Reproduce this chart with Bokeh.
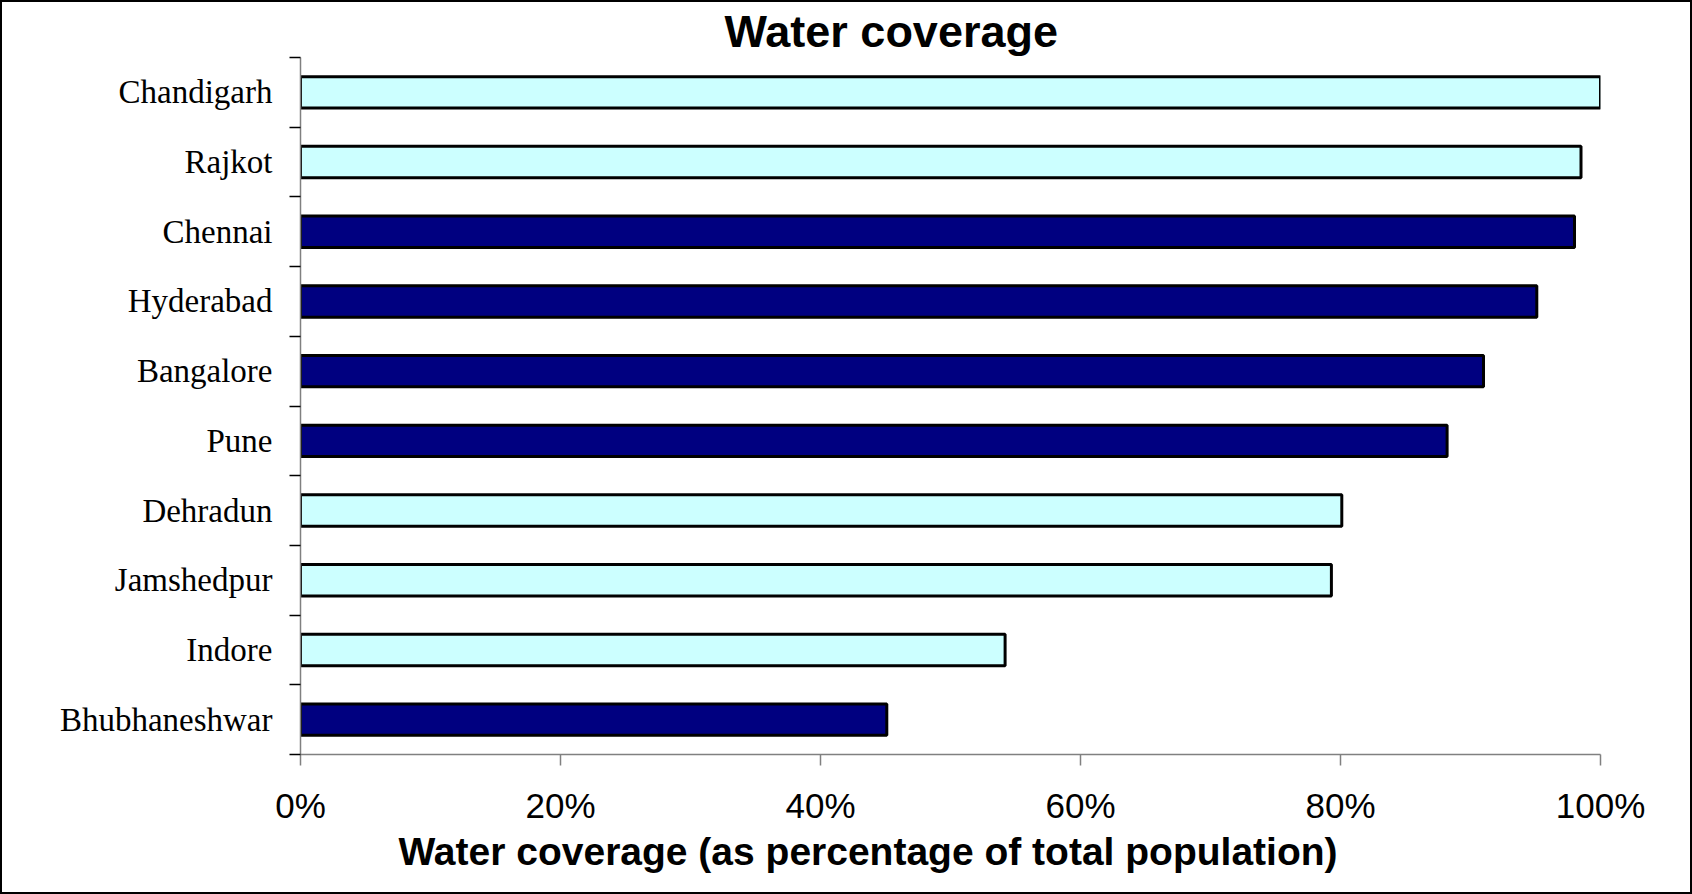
from bokeh.plotting import figure
from bokeh.models import (Range1d, FixedTicker, NumeralTickFormatter, Title,
                          ColumnDataSource, CategoricalColorMapper)
from bokeh.embed import file_html
from bokeh.resources import INLINE

# ---- data (top to bottom as shown) ----
cities = ["Chandigarh", "Rajkot", "Chennai", "Hyderabad", "Bangalore",
          "Pune", "Dehradun", "Jamshedpur", "Indore", "Bhubhaneshwar"]
coverage = [1.000, 0.985, 0.980, 0.951, 0.910, 0.882, 0.801, 0.793, 0.542, 0.451]
group = ["light", "light", "dark", "dark", "dark", "dark", "light", "light", "light", "dark"]
x_ticks = [0.0, 0.2, 0.4, 0.6, 0.8, 1.0]

n = len(cities)
ypos = [n - i - 0.5 for i in range(n)]
source = ColumnDataSource(dict(city=cities, cov=coverage, grp=group, y=ypos))

cmap = CategoricalColorMapper(factors=["light", "dark"], palette=["#CCFFFF", "#000080"])

p = figure(frame_width=1300, frame_height=697,
           x_range=Range1d(0, 1), y_range=Range1d(0, n),
           output_backend="svg", toolbar_location=None,
           min_border_left=298, min_border_right=90,
           min_border_top=55, min_border_bottom=138,
           background_fill_color="white", border_fill_color="white")
p.outline_line_color = None
p.grid.grid_line_color = None
p.styles = {"border": "2px solid black"}

p.hbar(y="y", left=0, right="cov", height=0.45, source=source,
       fill_color={"field": "grp", "transform": cmap},
       line_color="black", line_width=3)

# title
p.title.text = "Water coverage"
p.title.align = "left"
p.title.offset = 424
p.title.text_font = "Liberation Sans"
p.title.text_font_size = "45px"
p.title.text_font_style = "bold"
p.title.text_color = "black"
p.title.standoff = 2

# x axis
xa = p.xaxis[0]
xa.ticker = FixedTicker(ticks=x_ticks)
xa.formatter = NumeralTickFormatter(format="0%")
xa.major_label_text_font = "Liberation Sans"
xa.major_label_text_font_size = "35px"
xa.major_label_text_color = "black"
xa.major_label_standoff = 20
xa.major_tick_out = 11
xa.major_tick_in = 0
xa.minor_tick_out = 0
xa.minor_tick_in = 0
xa.axis_line_color = "#808080"
xa.major_tick_line_color = "#808080"
xa.axis_line_width = 1.5
xa.major_tick_line_width = 1.5

xlab = Title(text="Water coverage (as percentage of total population)",
             align="left", offset=98, text_font="Liberation Sans",
             text_font_size="39px", text_font_style="bold",
             text_color="black", standoff=0)
p.add_layout(xlab, "below")

# y axis: labels at centres, ticks at boundaries (minor ticks)
ya = p.yaxis[0]
ya.ticker = FixedTicker(ticks=ypos, minor_ticks=[float(i) for i in range(n + 1)])
ya.major_label_overrides = {y: c for y, c in zip(ypos, cities)}
ya.major_label_text_font = "Liberation Serif"
ya.major_label_text_font_size = "33px"
ya.major_label_text_color = "black"
ya.major_label_standoff = 17
ya.major_tick_out = 0
ya.major_tick_in = 0
ya.major_tick_line_color = None
ya.minor_tick_out = 11
ya.minor_tick_in = 0
ya.minor_tick_line_color = "#000000"
ya.minor_tick_line_width = 1.5
ya.axis_line_color = "#808080"
ya.axis_line_width = 1.5

open("out.html", "w").write(file_html(p, INLINE))
